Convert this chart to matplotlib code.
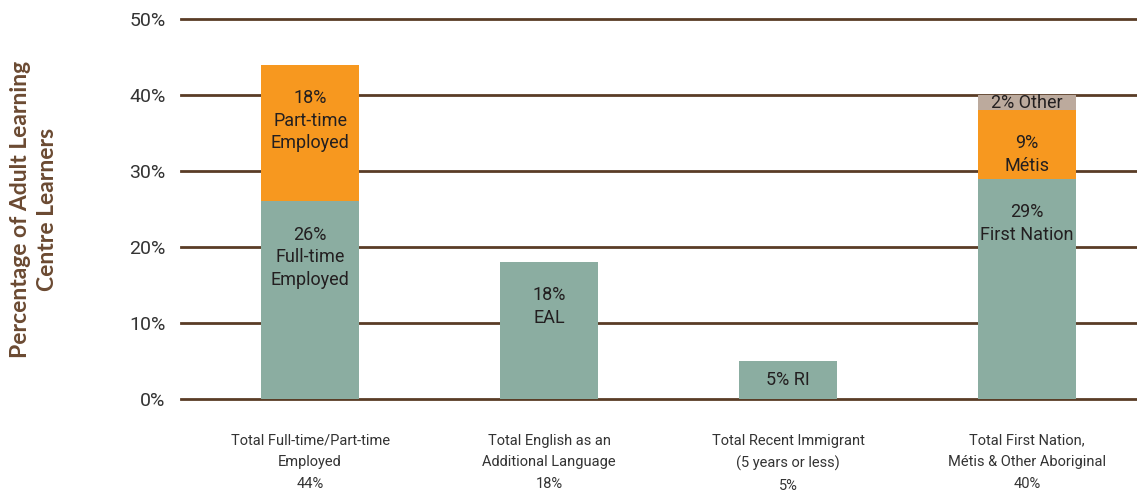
import matplotlib
matplotlib.use("Agg")
import matplotlib.pyplot as plt
import numpy as np

# ---- data ----
categories = [
    "Total Full-time/Part-time\nEmployed\n44%",
    "Total English as an\nAdditional Language\n18%",
    "Total Recent Immigrant\n(5 years or less)\n5%",
    "Total First Nation,\nMétis & Other Aboriginal\n40%",
]
base_values = [26, 18, 5, 29]
middle_values = [18, 0, 0, 9]
top_values = [0, 0, 0, 2]
base_labels = ["26%\nFull-time\nEmployed", "18%\nEAL", "5% RI", "29%\nFirst Nation"]
middle_labels = ["18%\nPart-time\nEmployed", "", "", "9%\nMétis"]
top_labels = ["", "", "", "2% Other"]
yticks = [0, 10, 20, 30, 40, 50]
ytick_labels = ["0%", "10%", "20%", "30%", "40%", "50%"]

# ---- style ----
GREEN = "#8badA1"
ORANGE = "#f7981f"
TAN = "#bcaa9d"
GRID = "#5a3c26"
BROWN = "#6b4a32"
TEXT = "#231f20"
FONT = ["Roboto", "DejaVu Sans"]

fig = plt.figure(figsize=(11.37, 4.97), dpi=100)
ax = fig.add_axes([0.1592, 0.1972, 0.8408, 0.7646])

x = np.arange(len(categories))
width = 0.41
series = [(base_values, base_labels, GREEN),
          (middle_values, middle_labels, ORANGE),
          (top_values, top_labels, TAN)]
bottom = np.zeros(len(categories))
for vals, labs, col in series:
    vals = np.array(vals, dtype=float)
    ax.bar(x, vals, width, bottom=bottom, color=col, zorder=3, linewidth=0)
    for xi, b, v, lab in zip(x, bottom, vals, labs):
        if v <= 0 or not lab:
            continue
        if v >= 8:
            ax.annotate(lab, xy=(xi, b + v), xytext=(0, -17.5), textcoords="offset points",
                        ha="center", va="top", fontsize=13, family=FONT,
                        color=TEXT, linespacing=1.33, zorder=4)
        else:
            ax.text(xi, b + v / 2, lab, ha="center", va="center", fontsize=13,
                    family=FONT, color=TEXT, zorder=4)
    bottom = bottom + vals

ax.set_xlim(-0.54, 3.46)
ax.set_ylim(0, 50)
ax.set_yticks(yticks)
ax.set_yticklabels(ytick_labels, family=FONT, fontsize=14, color="#333333")
ax.yaxis.grid(True, color=GRID, linewidth=2.0, zorder=0)
for gl in ax.get_ygridlines():
    gl.set_clip_on(False)
ax.set_axisbelow(True)
ax.set_xticks(x)
ax.set_xticklabels(categories, family=FONT, fontsize=10.5, color="#333333",
                   linespacing=1.68)
ax.tick_params(axis="both", length=0)
ax.tick_params(axis="y", pad=11)
ax.tick_params(axis="x", pad=25)
for s in ax.spines.values():
    s.set_visible(False)

fig.text(0.0299, 0.579, "Percentage of Adult Learning\nCentre Learners", rotation=90,
         ha="center", va="center", fontsize=16.5, fontweight="bold",
         family=["Lato", "DejaVu Sans"], color=BROWN, linespacing=1.4)

fig.savefig("out.png", dpi=100)
